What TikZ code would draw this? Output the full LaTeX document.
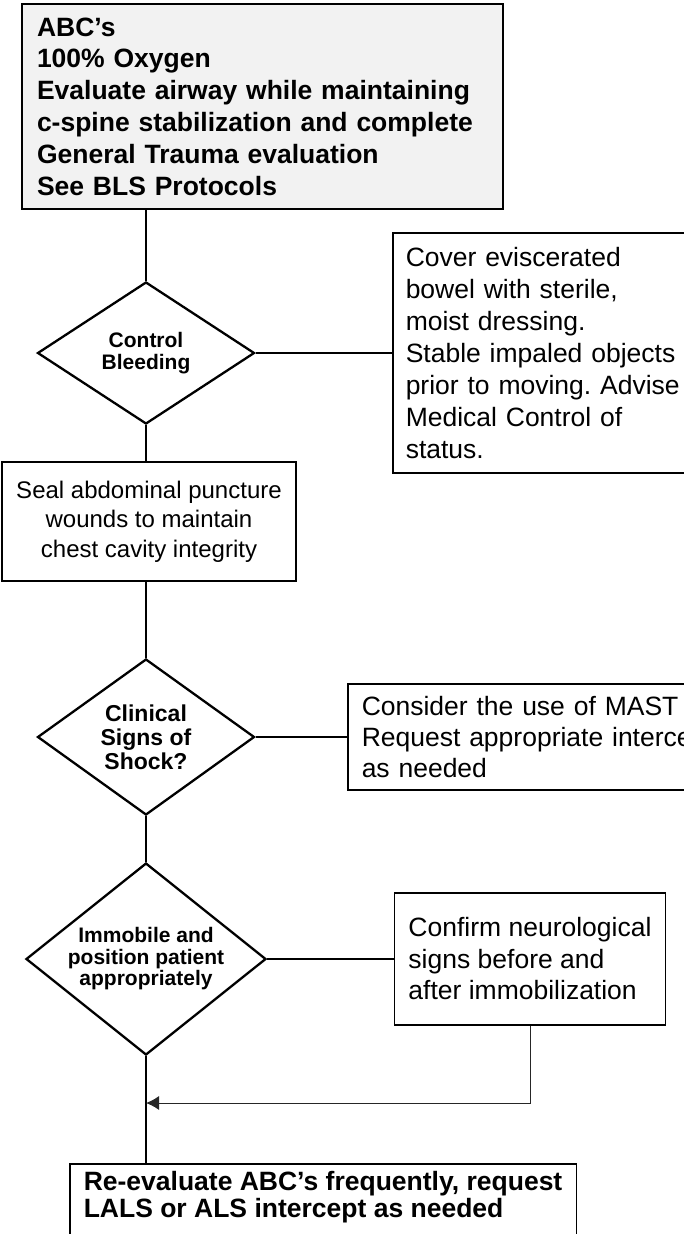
\documentclass[tikz,border=0pt]{standalone}
\usepackage{fontspec}
\setmainfont{Liberation Sans}
\frenchspacing
\usetikzlibrary{shapes.geometric}
\usetikzlibrary{arrows.meta}
\tikzset{
	stepbox/.style={draw, line width=1.5pt, align=left, inner xsep=14pt,
			font=\fontsize{26.5}{31.5}\selectfont},
	choice/.style={diamond, draw, line width=2.3pt, inner sep=0pt, align=center,
			font=\bfseries\fontsize{21}{21.5}\selectfont},
	link/.style={line width=1.3pt}
}
\begin{document}
\begin{tikzpicture}[x=1pt,y=-1pt]
		\useasboundingbox (0,0) rectangle (684,1234);
		\clip (0,0) rectangle (684,1234);
		\node (abc) [stepbox, fill=gray!10, line width=2.5pt, inner xsep=15pt, text width=451pt, minimum height=205pt,
			font=\bfseries\fontsize{26.5}{31.8}\selectfont] at (262.5,106.5)
			{ABC's\\100\% Oxygen\\Evaluate airway while maintaining\\c-spine stabilization and complete\\General Trauma evaluation\\See BLS Protocols};
		\node (bleed) [choice, aspect=1.53, minimum width=217pt, minimum height=142pt] at (146,353) {Control\\Bleeding};
		\node (cover) [stepbox, anchor=west, inner xsep=13pt, text width=282pt, minimum height=240pt,
			font=\fontsize{26.5}{32}\selectfont] at (392,353)
			{Cover eviscerated\\bowel with sterile,\\moist dressing.\\Stable impaled objects\\prior to moving. Advise\\Medical Control of\\status.};
		\node (seal) [stepbox, align=center, minimum width=288pt, minimum height=119pt,
			font=\fontsize{24}{29.5}\selectfont] at (149,521.5)
			{Seal abdominal puncture\\wounds to maintain\\chest cavity integrity};
		\node (shock) [choice, aspect=1.39, minimum width=217pt, minimum height=156pt,
			font=\bfseries\fontsize{23}{24}\selectfont] at (146,737) {Clinical\\Signs of\\Shock?};
		\node (mast) [stepbox, anchor=west, text width=440pt, minimum height=106pt,
			font=\fontsize{26.5}{31}\selectfont] at (347,737)
			{Consider the use of MAST\\Request appropriate intercept\\as needed};
		\node (immob) [choice, aspect=1.25, minimum width=240pt, minimum height=192pt] at (146,959)
			{Immobile and\\position patient\\appropriately};
		\node (confirm) [stepbox, minimum width=270pt, minimum height=132pt] at (530,959)
			{Confirm neurological\\signs before and\\after immobilization};
		\node (final) [stepbox, anchor=north west, inner ysep=8pt, minimum width=505pt, text depth=60pt,
			font=\bfseries\fontsize{26.5}{27}\selectfont] at (69,1163)
			{Re-evaluate ABC's frequently, request\\LALS or ALS intercept as needed};
		\coordinate (merge) at (146,1103);
		\draw [link] (bleed.north) -- (bleed.north |- abc.south);
		\draw [link] (bleed.east) -- (cover.west);
		\draw [link] (bleed.south) -- (bleed.south |- seal.north);
		\draw [link] (shock.north) -- (shock.north |- seal.south);
		\draw [link] (shock.east) -- (mast.west);
		\draw [link] (shock.south) -- (immob.north);
		\draw [link] (immob.east) -- (confirm.west);
		\draw [link] (immob.south) -- (immob.south |- final.north);
		\draw [color=black!85, line width=1pt, -{Latex[length=13pt,width=14pt]}] (confirm.south) |- (merge);
	\end{tikzpicture}
\end{document}
